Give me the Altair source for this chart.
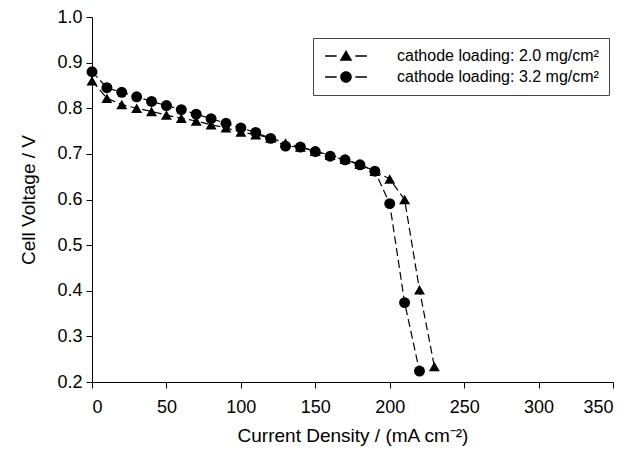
import altair as alt
import pandas as pd

# Current density (mA cm^-2)
x_a = [0, 10, 20, 30, 40, 50, 60, 70, 80, 90, 100, 110, 120, 130, 140, 150,
       160, 170, 180, 190, 200, 210, 220, 230]
v_a = [0.860, 0.822, 0.808, 0.800, 0.793, 0.785, 0.778, 0.772, 0.764, 0.757,
       0.748, 0.742, 0.735, 0.724, 0.715, 0.706, 0.697, 0.688, 0.677, 0.662,
       0.645, 0.600, 0.402, 0.234]

x_b = [0, 10, 20, 30, 40, 50, 60, 70, 80, 90, 100, 110, 120, 130, 140, 150,
       160, 170, 180, 190, 200, 210, 220]
v_b = [0.880, 0.845, 0.835, 0.825, 0.815, 0.806, 0.797, 0.787, 0.777, 0.767,
       0.757, 0.747, 0.734, 0.717, 0.715, 0.705, 0.695, 0.687, 0.676, 0.662,
       0.591, 0.374, 0.224]

label_a = "cathode loading: 2.0 mg/cm²"
label_b = "cathode loading: 3.2 mg/cm²"

x_ticks = [0, 50, 100, 150, 200, 250, 300, 350]
y_ticks = [0.2, 0.3, 0.4, 0.5, 0.6, 0.7, 0.8, 0.9, 1.0]

df = pd.concat([
    pd.DataFrame({"x": x_a, "v": v_a, "series": label_a}),
    pd.DataFrame({"x": x_b, "v": v_b, "series": label_b}),
])

FONT = "Liberation Sans"

xenc = alt.X("x:Q", scale=alt.Scale(domain=[0, 350], nice=False),
             axis=alt.Axis(values=x_ticks, title="Current Density / (mA cm⁻²)",
                           labelPadding=10, titlePadding=10))
yenc = alt.Y("v:Q", scale=alt.Scale(domain=[0.2, 1.0], nice=False, zero=False),
             axis=alt.Axis(values=y_ticks, format=".1f", title="Cell Voltage / V",
                           labelPadding=4, titlePadding=18))

base = alt.Chart(df)

lines = base.mark_line(color="black", strokeWidth=1.2, strokeDash=[8, 4]).encode(
    x=xenc, y=yenc, detail="series:N")

points = base.mark_point(filled=True, color="black", opacity=1, size=120).encode(
    x=xenc, y=yenc,
    shape=alt.Shape("series:N",
                    scale=alt.Scale(domain=[label_a, label_b],
                                    range=["triangle-up", "circle"]),
                    legend=None))

# legend glyphs: dash - marker - dash (filled shapes only)
dashes = "M-3.8,-0.12H-1.7V0.12H-3.8Z M1.7,-0.12H3.8V0.12H1.7Z "
tri_path = dashes + "M0,-1.1L1.15,0.85L-1.15,0.85Z"
cir_path = dashes + "M1.05,0A1.05,1.05 0 1,1 -1.05,0A1.05,1.05 0 1,1 1.05,0Z"

legend_layer = base.mark_point(filled=True, color="black", opacity=0).encode(
    x=xenc, y=yenc,
    shape=alt.Shape("series:N",
                    scale=alt.Scale(domain=[label_a, label_b],
                                    range=[tri_path, cir_path]),
                    legend=alt.Legend(
                        title=None, orient="none", legendX=221, legendY=21,
                        strokeColor="#444", padding=10, rowPadding=5,
                        symbolSize=121, symbolOpacity=1,
                        symbolFillColor="black", symbolStrokeColor="black",
                        symbolStrokeWidth=0, symbolOffset=15,
                        labelFontSize=16, labelFont=FONT,
                        labelColor="black", labelOffset=43, labelLimit=400)))

chart = alt.layer(lines, points, legend_layer).resolve_scale(
    shape="independent").properties(
    width=521, height=365,
    autosize=alt.AutoSizeParams(type="none"),
    padding={"left": 84, "top": 9, "right": 12, "bottom": 70},
).configure_view(stroke=None).configure_axis(
    grid=False, domainColor="black", tickColor="black", tickSize=6,
    labelFont=FONT, titleFont=FONT, labelFontSize=18, titleFontSize=19,
    labelColor="black", titleColor="black", titleFontWeight="normal",
    domainWidth=1, tickWidth=1,
)

chart.save("out.html", embed_options={"renderer": "svg", "actions": False})
